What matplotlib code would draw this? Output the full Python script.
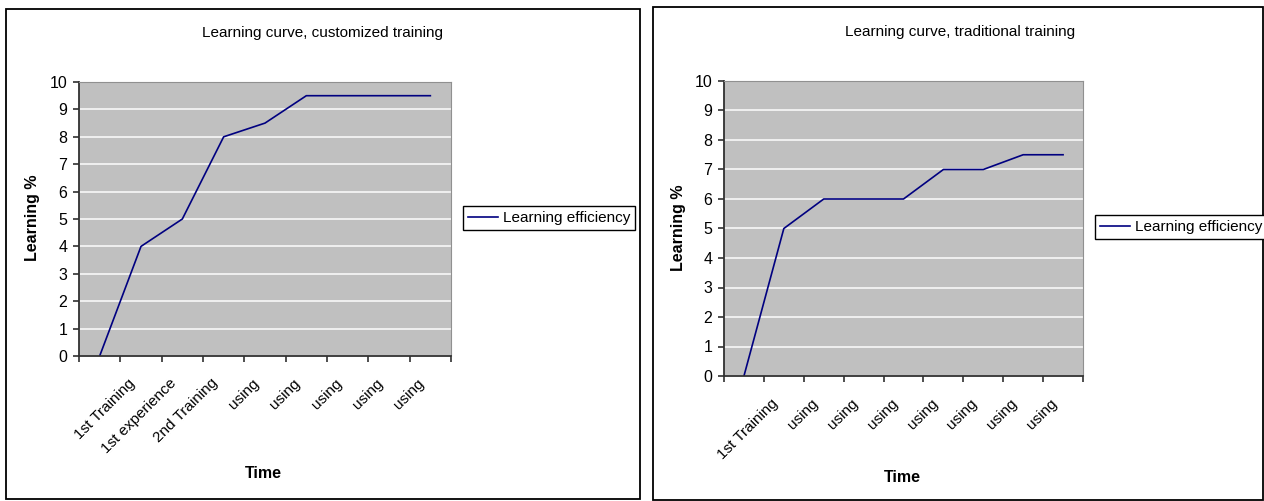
import matplotlib.pyplot as plt
from matplotlib.patches import Rectangle

plt.rcParams['font.family'] = ['Liberation Sans', 'DejaVu Sans']

# data
cust_labels = ['', '1st Training', '1st experience', '2nd Training', 'using', 'using', 'using', 'using', 'using']
cust_values = [0, 4, 5, 8, 8.5, 9.5, 9.5, 9.5, 9.5]
trad_labels = ['', '1st Training', 'using', 'using', 'using', 'using', 'using', 'using', 'using']
trad_values = [0, 5, 6, 6, 6, 7, 7, 7.5, 7.5]
series_name = 'Learning efficiency'

W, H = 1264, 501
fig = plt.figure(figsize=(W / 100, H / 100), dpi=100)


def px(x0, x1, y0, y1):
    return [x0 / W, 1 - y1 / H, (x1 - x0) / W, (y1 - y0) / H]


def draw_chart(box, area, labels, values, title, title_xy, ylab_xy, xlab_xy, leg_xy):
    # chart border
    fig.patches.append(Rectangle((box[0] / W, 1 - box[3] / H), (box[2] - box[0]) / W,
                                 (box[3] - box[1]) / H, transform=fig.transFigure,
                                 fill=False, edgecolor='black', linewidth=1.3))
    ax = fig.add_axes(px(*area))
    ax.set_facecolor('#C0C0C0')
    n = len(values)
    line, = ax.plot(range(n), values, color='#000080', linewidth=1.2, label=series_name)
    ax.set_xlim(-0.5, n - 0.5)
    ax.set_ylim(0, 10)
    ax.set_yticks(range(0, 11))
    ax.grid(axis='y', color='#F4F4F4', linewidth=1.3)
    ax.set_axisbelow(True)
    ax.set_xticks([i - 0.5 for i in range(n + 1)])
    ax.set_xticklabels([])
    # labels sit a bit left of the category centre, like Excel does
    ax.set_xticks([i - 0.2 for i in range(n)], minor=True)
    ax.set_xticklabels(labels, minor=True, rotation=45, ha='right', va='center',
                       rotation_mode='anchor', fontsize=11)
    ax.tick_params(axis='x', which='minor', length=0, pad=18)
    ax.tick_params(axis='x', which='major', length=4, direction='out', width=1.2, color='#303030')
    ax.tick_params(axis='y', length=4, direction='out', width=1.2, color='#303030',
                   labelsize=11.5, pad=4.5)
    for s in ['top', 'right']:
        ax.spines[s].set_color('#909090')
    ax.spines['left'].set_color('#303030')
    ax.spines['bottom'].set_color('#303030')
    ax.spines['left'].set_linewidth(1.3)
    ax.spines['bottom'].set_linewidth(1.3)
    fig.text(title_xy[0] / W, 1 - title_xy[1] / H, title, ha='center', va='center', fontsize=11)
    fig.text(ylab_xy[0] / W, 1 - ylab_xy[1] / H, 'Learning %', rotation=90, ha='center',
             va='center', fontsize=11.5, fontweight='bold')
    fig.text(xlab_xy[0] / W, 1 - xlab_xy[1] / H, 'Time', ha='center', va='center',
             fontsize=11.5, fontweight='bold')
    leg = fig.legend(handles=[line], loc='center left',
                     bbox_to_anchor=(leg_xy[0] / W, 1 - leg_xy[1] / H),
                     bbox_transform=fig.transFigure, borderaxespad=0, fancybox=False,
                     edgecolor='black', framealpha=1, fontsize=11, handlelength=2.0,
                     borderpad=0.3, handletextpad=0.3)
    leg.get_frame().set_linewidth(1.0)
    return ax


draw_chart((6, 9, 640, 499), (79, 451, 82, 356), cust_labels, cust_values,
           'Learning curve, customized training', (323, 33), (33, 218), (263, 473), (463, 218))
draw_chart((653, 7, 1263, 500), (724, 1083, 81, 376), trad_labels, trad_values,
           'Learning curve, traditional training', (960, 32), (678, 228), (902, 478), (1095, 227))

fig.savefig('out.png', dpi=100)
